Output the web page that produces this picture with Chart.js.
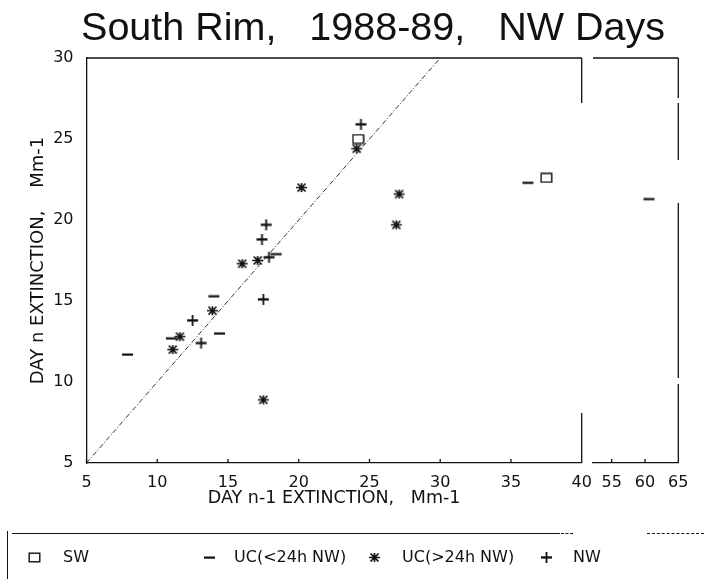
<!DOCTYPE html>
<html><head><meta charset="utf-8">
<script src="https://cdn.jsdelivr.net/npm/chart.js@4"></script>
<style>
html,body{margin:0;padding:0;background:#fff;}
body{width:704px;height:586px;overflow:hidden;position:relative;font-family:"Liberation Sans",Arial,sans-serif;color:#111;}
#c1{position:absolute;left:0;top:0;}
#c2{position:absolute;left:580px;top:0;}
#title{position:absolute;top:4px;left:0;width:746px;text-align:center;font-size:39.5px;white-space:pre;line-height:44px;}
#legend{position:absolute;left:0;top:0;width:704px;height:586px;pointer-events:none;}
.lg{position:absolute;font-family:"DejaVu Sans",sans-serif;font-size:16px;white-space:pre;line-height:18px;}
.lgi{position:absolute;}
</style>
</head><body>
<canvas id="c1" width="704" height="586"></canvas>
<canvas id="c2" width="124" height="586"></canvas>
<div id="title">South Rim,   1988-89,   NW Days</div>
<div id="legend"></div>
<script>
// ---- data (x = day n-1 extinction, y = day n extinction, Mm-1) ----
const swX = [24.2, 37.5];
const swY = [25.0, 22.6];
const ucShortX = [7.9, 11.0, 14.0, 14.4, 18.4, 36.2, 60.6];
const ucShortY = [11.7, 12.7, 15.3, 13.0, 17.9, 22.3, 21.3];
const ucLongX = [11.1, 11.6, 13.9, 16.0, 17.1, 17.5, 20.2, 24.1, 26.9, 27.1];
const ucLongY = [12.0, 12.8, 14.4, 17.3, 17.5, 8.9, 22.0, 24.4, 19.7, 21.6];
const nwX = [12.5, 13.1, 17.4, 17.7, 17.5, 17.9, 24.4];
const nwY = [13.8, 12.4, 18.8, 19.7, 15.1, 17.7, 25.9];
const oneToOne = [5, 30];
const seriesNames = ["SW", "UC(<24h NW)", "UC(>24h NW)", "NW"];
const mainTicks = [5, 10, 15, 20, 25, 30, 35, 40];
const sideTicks = [55, 60, 65];
const yTicks = [5, 10, 15, 20, 25, 30];

const INK = '#111';
function mk(w, h, draw) {
  const c = document.createElement('canvas');
  c.width = w; c.height = h;
  const g = c.getContext('2d');
  g.strokeStyle = INK; g.fillStyle = INK;
  draw(g, w, h);
  return c;
}
const symSquare = mk(13, 11, g => { g.lineWidth = 1.4; g.strokeRect(1.2, 1.2, 10.6, 8.6); });
const symDash = mk(13, 5, g => { g.fillRect(1, 1.5, 11, 2.2); });
const symStar = mk(13, 11, g => {
  g.lineWidth = 1.7;
  g.beginPath();
  g.moveTo(1, 5.5); g.lineTo(12, 5.5);
  g.moveTo(2.5, 1.5); g.lineTo(10.5, 9.5);
  g.moveTo(10.5, 1.5); g.lineTo(2.5, 9.5);
  g.moveTo(6.5, 1); g.lineTo(6.5, 10);
  g.stroke();
});
const symPlus = mk(13, 13, g => { g.fillRect(1, 5.3, 11, 2.3); g.fillRect(5.6, 1, 1.8, 11); });

function pts(xs, ys) { return xs.map((x, i) => ({ x: x, y: ys[i] })); }
function datasets() {
  return [
    { type: 'line', label: 'one-to-one', data: pts(oneToOne, oneToOne), borderColor: '#333', borderWidth: 1,
      borderDash: [5, 2, 1, 2], pointRadius: 0, fill: false },
    { label: seriesNames[0], data: pts(swX, swY), pointStyle: symSquare, pointRadius: 6 },
    { label: seriesNames[1], data: pts(ucShortX, ucShortY), pointStyle: symDash, pointRadius: 6 },
    { label: seriesNames[2], data: pts(ucLongX, ucLongY), pointStyle: symStar, pointRadius: 6 },
    { label: seriesNames[3], data: pts(nwX, nwY), pointStyle: symPlus, pointRadius: 6 }
  ];
}

const TICKFONT = { family: '"DejaVu Sans", sans-serif', size: 16 };
const AXFONT = { family: '"DejaVu Sans", sans-serif', size: 17.5 };

const mainFrame = {
  id: 'mainFrame',
  afterDraw(ch) {
    const a = ch.chartArea, g = ch.ctx, xs = ch.scales.x;
    g.save(); g.strokeStyle = INK; g.lineWidth = 1.3;
    g.beginPath();
    g.moveTo(a.left, a.top); g.lineTo(a.right, a.top);
    g.moveTo(a.right, a.top); g.lineTo(a.right, a.top + 45);
    g.moveTo(a.right, a.bottom - 50); g.lineTo(a.right, a.bottom);
    mainTicks.forEach(v => { const px = xs.getPixelForValue(v); g.moveTo(px, a.bottom); g.lineTo(px, a.bottom - 4); });
    g.stroke(); g.restore();
  }
};
const sideFrame = {
  id: 'sideFrame',
  afterDraw(ch) {
    const a = ch.chartArea, g = ch.ctx, xs = ch.scales.x;
    g.save(); g.strokeStyle = INK; g.lineWidth = 1.3;
    g.beginPath();
    g.moveTo(a.left, a.top); g.lineTo(a.right, a.top);
    g.moveTo(a.right, a.top); g.lineTo(a.right, a.top + 40);
    g.moveTo(a.right, a.top + 45); g.lineTo(a.right, a.top + 102);
    g.moveTo(a.right, a.top + 145); g.lineTo(a.right, a.top + 320);
    g.moveTo(a.right, a.top + 326); g.lineTo(a.right, a.bottom);
    sideTicks.forEach(v => { const px = xs.getPixelForValue(v); g.moveTo(px, a.bottom); g.lineTo(px, a.bottom - 4); });
    g.stroke(); g.restore();
  }
};

Chart.defaults.color = INK;
Chart.defaults.font.family = '"DejaVu Sans", sans-serif';

new Chart(document.getElementById('c1'), {
  type: 'scatter',
  data: { datasets: datasets() },
  options: {
    responsive: false, animation: false, devicePixelRatio: 1,
    layout: { padding: { left: 25, top: 58, right: 122.3, bottom: 73 } },
    plugins: { legend: { display: false }, tooltip: { enabled: false } },
    scales: {
      x: {
        type: 'linear', min: 5, max: 40,
        afterFit: s => { s.height = 50; },
        afterBuildTicks: s => { s.ticks = mainTicks.map(v => ({ value: v })); },
        ticks: { font: TICKFONT, padding: 10, color: INK },
        grid: { display: false, drawTicks: false },
        border: { display: true, color: INK, width: 1.3 },
        title: { display: true, text: 'DAY n-1 EXTINCTION,   Mm-1', font: AXFONT, color: INK, padding: { top: 4, bottom: 4 } }
      },
      y: {
        type: 'linear', min: 5, max: 30,
        afterFit: s => { s.width = 61.5; },
        afterBuildTicks: s => { s.ticks = yTicks.map(v => ({ value: v })); },
        ticks: { font: TICKFONT, padding: 8, color: INK },
        grid: { display: false, drawOnChartArea: false, drawTicks: true, tickLength: 5, tickColor: INK },
        border: { display: true, color: INK, width: 1.3 },
        title: { display: true, text: 'DAY n EXTINCTION,    Mm-1', font: { family: '"DejaVu Sans", sans-serif', size: 18 }, color: INK, padding: { top: 3, bottom: 4 } }
      }
    }
  },
  plugins: [mainFrame]
});

new Chart(document.getElementById('c2'), {
  type: 'scatter',
  data: { datasets: datasets() },
  options: {
    responsive: false, animation: false, devicePixelRatio: 1,
    layout: { padding: { left: 13, top: 58, right: 25.7, bottom: 73 } },
    plugins: { legend: { display: false }, tooltip: { enabled: false } },
    scales: {
      x: {
        type: 'linear', min: 52.2, max: 65,
        afterFit: s => { s.height = 50; },
        afterBuildTicks: s => { s.ticks = sideTicks.map(v => ({ value: v })); },
        ticks: { font: TICKFONT, padding: 10, color: INK },
        grid: { display: false, drawTicks: false },
        border: { display: true, color: INK, width: 1.3 }
      },
      y: { type: 'linear', min: 5, max: 30, display: false }
    }
  },
  plugins: [sideFrame]
});

// ---- HTML legend ----
const lg = document.getElementById('legend');
function addSym(c, x, y) {
  const im = document.createElement('img'); im.src = c.toDataURL(); im.className = 'lgi';
  im.style.left = (x - c.width / 2) + 'px'; im.style.top = (y - c.height / 2) + 'px'; lg.appendChild(im);
}
function addText(t, x, y) {
  const d = document.createElement('div'); d.className = 'lg'; d.textContent = t;
  d.style.left = x + 'px'; d.style.top = (y - 9) + 'px'; lg.appendChild(d);
}
const LY = 557;
const syms = [symSquare, symDash, symStar, symPlus];
const symX = [34, 209, 374, 546];
const txtX = [63, 234, 402, 573];
seriesNames.forEach((n, i) => { addSym(syms[i], symX[i], LY); addText(n, txtX[i], LY); });
function hline(x, w, style) {
  const d = document.createElement('div');
  d.style.cssText = 'position:absolute;left:' + x + 'px;top:533px;width:' + w + 'px;height:0;border-top:1.3px ' + style + ' #111;';
  lg.appendChild(d);
}
hline(12, 548, 'solid');
hline(561, 12, 'dashed');
hline(647, 57, 'dashed');
const vbar = document.createElement('div');
vbar.style.cssText = 'position:absolute;left:7px;top:531px;width:0;height:48px;border-left:1.3px solid #111;';
lg.appendChild(vbar);
</script>
</body></html>
